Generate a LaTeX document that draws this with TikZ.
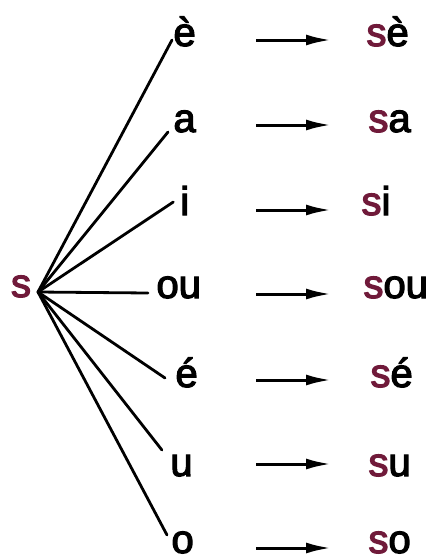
\documentclass[tikz,border=0pt]{standalone}
\usepackage{fontspec}
\setmainfont{Liberation Sans}
\newfontfamily\labfont{Liberation Sans}[FakeBold=3]
\usetikzlibrary{arrows.meta}
\definecolor{smaroon}{RGB}{112,26,58}
\begin{document}
\begin{tikzpicture}[x=1pt,y=1pt,
  lbl/.style={inner sep=0pt,outer sep=0pt,anchor=base west,font=\labfont\fontsize{40}{48}\selectfont},
  fan/.style={line width=2.8pt,line cap=round},
  arr/.style={line width=3pt,-{Latex[length=25pt,width=11pt]}}]
\useasboundingbox[fill=white] (0,0) rectangle (434,-560);
% hub letter
\node[lbl,text=smaroon] (s) at (11,-297) {s};
\coordinate (hub) at ([shift={(7pt,5pt)}]s.base east);
% left letters
\node[lbl] (L1) at (173.5,-46) {è};
\node[lbl] (L2) at (173.5,-132) {a};
\node[lbl] (L3) at (180.3,-215) {i};
\node[lbl] (L4) at (156.5,-298) {ou};
\node[lbl] (L5) at (175.5,-387) {é};
\node[lbl] (L6) at (170.4,-476) {u};
\node[lbl] (L7) at (171.5,-553) {o};
% right words
\node[lbl] (R1) at (366.5,-46) {\textcolor{smaroon}{s}è};
\node[lbl] (R2) at (368.5,-132) {\textcolor{smaroon}{s}a};
\node[lbl] (R3) at (361.5,-215) {\textcolor{smaroon}{s}i};
\node[lbl] (R4) at (363.5,-298) {\textcolor{smaroon}{s}ou};
\node[lbl] (R5) at (370.5,-387) {\textcolor{smaroon}{s}é};
\node[lbl] (R6) at (368.5,-476) {\textcolor{smaroon}{s}u};
\node[lbl] (R7) at (368.5,-553) {\textcolor{smaroon}{s}o};
% fan lines
\draw[fan] (hub) -- ([shift={(-1.5pt,6pt)}]L1.base west);
\draw[fan] (hub) -- ([shift={(-5.5pt,0pt)}]L2.base west);
\draw[fan] (hub) -- ([shift={(-7pt,13pt)}]L3.base west);
\draw[fan] (hub) -- ([shift={(-8.5pt,5pt)}]L4.base west);
\draw[fan] (hub) -- ([shift={(-10.5pt,9pt)}]L5.base west);
\draw[fan] (hub) -- ([shift={(-8.5pt,26pt)}]L6.base west);
\draw[fan] (hub) -- ([shift={(-4.5pt,18pt)}]L7.base west);
% arrows
\foreach \k/\y in {1/40,2/125,3/210,4/294,5/380,6/464,7/548}{
  \coordinate (A\k) at (256,-\y);
  \coordinate (B\k) at (331,-\y);
  \draw[arr] (A\k) -- (B\k);
}
\end{tikzpicture}
\end{document}
